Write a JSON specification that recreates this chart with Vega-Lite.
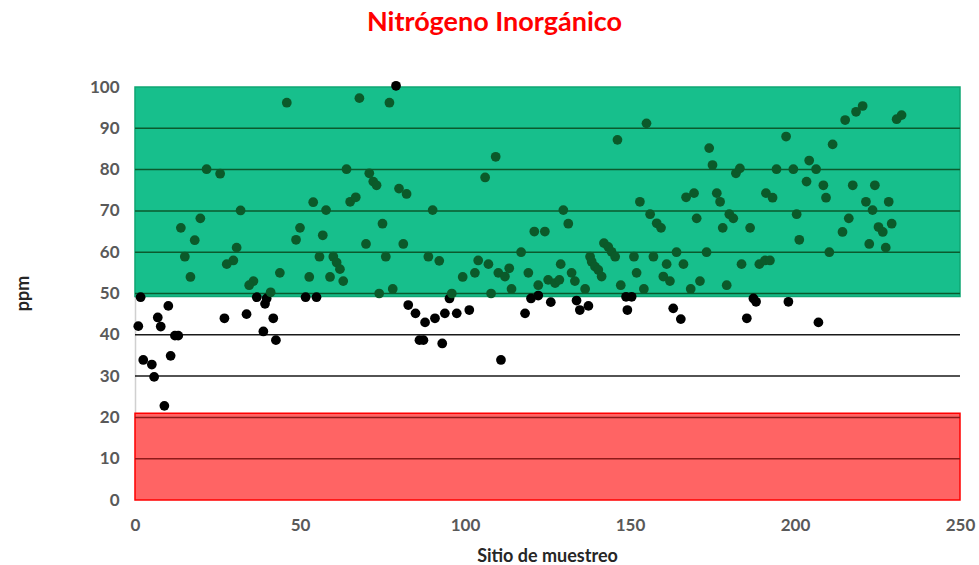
{
  "$schema": "https://vega.github.io/schema/vega-lite/v6.json",
  "width": 825,
  "height": 413,
  "autosize": {"type": "none"},
  "padding": {"left": 135, "top": 87, "right": 19, "bottom": 65},
  "background": "white",
  "title": {
    "text": "Nitrógeno Inorgánico",
    "color": "#FF0000",
    "font": "Lato",
    "fontSize": 27,
    "fontWeight": "bold",
    "anchor": "middle",
    "dx": -53,
    "offset": 41
  },
  "config": {
    "view": {"stroke": null},
    "axis": {"labelFont": "Lato", "titleFont": "Lato"}
  },
  "datasets": {
    "puntos": [
      {"sitio": 1.7, "ppm": 49.1}, {"sitio": 10.1, "ppm": 47}, {"sitio": 1, "ppm": 42.1}, {"sitio": 6.9, "ppm": 44.2}, {"sitio": 7.8, "ppm": 42},
      {"sitio": 12.1, "ppm": 39.8}, {"sitio": 13.1, "ppm": 39.8}, {"sitio": 2.5, "ppm": 33.9}, {"sitio": 5.1, "ppm": 32.8}, {"sitio": 10.8, "ppm": 34.9},
      {"sitio": 5.8, "ppm": 29.8}, {"sitio": 8.9, "ppm": 22.8}, {"sitio": 27.1, "ppm": 44}, {"sitio": 33.8, "ppm": 45}, {"sitio": 36.9, "ppm": 49.1},
      {"sitio": 39.9, "ppm": 48.8}, {"sitio": 39.4, "ppm": 47.5}, {"sitio": 41.9, "ppm": 44}, {"sitio": 38.9, "ppm": 40.8}, {"sitio": 42.7, "ppm": 38.7},
      {"sitio": 51.7, "ppm": 49.1}, {"sitio": 55, "ppm": 49.1}, {"sitio": 82.8, "ppm": 47.2}, {"sitio": 85, "ppm": 45.2}, {"sitio": 87.9, "ppm": 43},
      {"sitio": 90.9, "ppm": 44}, {"sitio": 93.9, "ppm": 45.2}, {"sitio": 97.5, "ppm": 45.2}, {"sitio": 101.3, "ppm": 46}, {"sitio": 86.2, "ppm": 38.7},
      {"sitio": 87.4, "ppm": 38.7}, {"sitio": 93.1, "ppm": 37.9}, {"sitio": 110.9, "ppm": 33.9}, {"sitio": 118.2, "ppm": 45.2}, {"sitio": 95.3, "ppm": 48.8},
      {"sitio": 120, "ppm": 48.8}, {"sitio": 122.2, "ppm": 49.5}, {"sitio": 126, "ppm": 47.9}, {"sitio": 133.8, "ppm": 48.3}, {"sitio": 134.8, "ppm": 46},
      {"sitio": 137.4, "ppm": 47}, {"sitio": 148.8, "ppm": 49.2}, {"sitio": 150.5, "ppm": 49.2}, {"sitio": 149.2, "ppm": 46}, {"sitio": 163.1, "ppm": 46.4},
      {"sitio": 165.4, "ppm": 43.8}, {"sitio": 187.4, "ppm": 48.8}, {"sitio": 188.2, "ppm": 48}, {"sitio": 198, "ppm": 48}, {"sitio": 185.4, "ppm": 44},
      {"sitio": 207.1, "ppm": 43}, {"sitio": 79.1, "ppm": 100.3},
      {"sitio": 46, "ppm": 96.2}, {"sitio": 21.7, "ppm": 80.1}, {"sitio": 25.8, "ppm": 79}, {"sitio": 32, "ppm": 70.1}, {"sitio": 54, "ppm": 72.1},
      {"sitio": 57.9, "ppm": 70.2}, {"sitio": 13.9, "ppm": 65.9}, {"sitio": 19.8, "ppm": 68.2}, {"sitio": 18.1, "ppm": 62.9}, {"sitio": 50, "ppm": 65.9},
      {"sitio": 48.8, "ppm": 63}, {"sitio": 56.9, "ppm": 64.1}, {"sitio": 30.8, "ppm": 61.1}, {"sitio": 15.1, "ppm": 58.9}, {"sitio": 29.8, "ppm": 58},
      {"sitio": 27.8, "ppm": 57.1}, {"sitio": 55.9, "ppm": 58.9}, {"sitio": 60.1, "ppm": 58.9}, {"sitio": 61.1, "ppm": 57.5}, {"sitio": 62.1, "ppm": 55.9},
      {"sitio": 16.8, "ppm": 54}, {"sitio": 43.9, "ppm": 55}, {"sitio": 52.8, "ppm": 54}, {"sitio": 59.1, "ppm": 54}, {"sitio": 35.9, "ppm": 53},
      {"sitio": 34.6, "ppm": 52}, {"sitio": 41.1, "ppm": 50.3}, {"sitio": 63.1, "ppm": 53},
      {"sitio": 68, "ppm": 97.3}, {"sitio": 77.1, "ppm": 96.2}, {"sitio": 109.3, "ppm": 83.1}, {"sitio": 106.1, "ppm": 78.1}, {"sitio": 64.1, "ppm": 80.1},
      {"sitio": 71, "ppm": 79.1}, {"sitio": 72.2, "ppm": 77.1}, {"sitio": 73.2, "ppm": 76.2}, {"sitio": 80, "ppm": 75.4}, {"sitio": 82.3, "ppm": 74.1},
      {"sitio": 65.2, "ppm": 72.2}, {"sitio": 66.9, "ppm": 73.3}, {"sitio": 90.2, "ppm": 70.2}, {"sitio": 75, "ppm": 66.9}, {"sitio": 70, "ppm": 62},
      {"sitio": 81.3, "ppm": 62}, {"sitio": 121, "ppm": 65}, {"sitio": 76, "ppm": 58.9}, {"sitio": 88.9, "ppm": 58.9}, {"sitio": 92.2, "ppm": 57.9},
      {"sitio": 104, "ppm": 58}, {"sitio": 107.1, "ppm": 57.1}, {"sitio": 117, "ppm": 60}, {"sitio": 103, "ppm": 55}, {"sitio": 99.3, "ppm": 54},
      {"sitio": 110.1, "ppm": 55}, {"sitio": 112.1, "ppm": 54.1}, {"sitio": 113.4, "ppm": 56.1}, {"sitio": 119.2, "ppm": 55}, {"sitio": 78.1, "ppm": 51.1},
      {"sitio": 74, "ppm": 50}, {"sitio": 96, "ppm": 50}, {"sitio": 107.9, "ppm": 50}, {"sitio": 114.1, "ppm": 51.1}, {"sitio": 122.2, "ppm": 52},
      {"sitio": 155, "ppm": 91.2}, {"sitio": 146.2, "ppm": 87.2}, {"sitio": 174, "ppm": 85.2}, {"sitio": 175, "ppm": 81.1}, {"sitio": 182.1, "ppm": 79.1},
      {"sitio": 153, "ppm": 72.2}, {"sitio": 167, "ppm": 73.3}, {"sitio": 169.4, "ppm": 74.3}, {"sitio": 176.3, "ppm": 74.3}, {"sitio": 177.3, "ppm": 72.2},
      {"sitio": 129.8, "ppm": 70.2}, {"sitio": 131.3, "ppm": 66.9}, {"sitio": 156.1, "ppm": 69.2}, {"sitio": 158.1, "ppm": 67}, {"sitio": 159.4, "ppm": 65.9},
      {"sitio": 170.2, "ppm": 68.2}, {"sitio": 180.1, "ppm": 69.2}, {"sitio": 181.3, "ppm": 68.2}, {"sitio": 178.1, "ppm": 65.9}, {"sitio": 124.2, "ppm": 65},
      {"sitio": 142.1, "ppm": 62.2}, {"sitio": 143.4, "ppm": 61.3}, {"sitio": 144.4, "ppm": 60.1}, {"sitio": 145.5, "ppm": 58.9}, {"sitio": 151.2, "ppm": 58.9},
      {"sitio": 157.1, "ppm": 58.9}, {"sitio": 164.1, "ppm": 60}, {"sitio": 173.2, "ppm": 60}, {"sitio": 161.1, "ppm": 57.1}, {"sitio": 166.2, "ppm": 57.1},
      {"sitio": 183.8, "ppm": 57.1}, {"sitio": 129, "ppm": 57.1}, {"sitio": 137.9, "ppm": 58.9}, {"sitio": 138.4, "ppm": 57.7}, {"sitio": 139.4, "ppm": 56.5},
      {"sitio": 140.4, "ppm": 55.7}, {"sitio": 141.4, "ppm": 54.1}, {"sitio": 132.3, "ppm": 55}, {"sitio": 133.3, "ppm": 53}, {"sitio": 152, "ppm": 55},
      {"sitio": 125.2, "ppm": 53.3}, {"sitio": 127.3, "ppm": 52.5}, {"sitio": 128.6, "ppm": 53.3}, {"sitio": 136.4, "ppm": 51.1}, {"sitio": 147.2, "ppm": 52},
      {"sitio": 154.2, "ppm": 51.1}, {"sitio": 160.1, "ppm": 54.1}, {"sitio": 162.1, "ppm": 53}, {"sitio": 171.2, "ppm": 53}, {"sitio": 168.4, "ppm": 51.1},
      {"sitio": 179.3, "ppm": 52},
      {"sitio": 220.5, "ppm": 95.4}, {"sitio": 218.5, "ppm": 94}, {"sitio": 215.2, "ppm": 92}, {"sitio": 232.3, "ppm": 93.2}, {"sitio": 230.8, "ppm": 92.2},
      {"sitio": 197.3, "ppm": 88}, {"sitio": 211.4, "ppm": 86.1}, {"sitio": 204.3, "ppm": 82.2}, {"sitio": 206.4, "ppm": 80.1}, {"sitio": 194.4, "ppm": 80.1},
      {"sitio": 199.5, "ppm": 80.1}, {"sitio": 183.3, "ppm": 80.3}, {"sitio": 203.5, "ppm": 77.1}, {"sitio": 208.6, "ppm": 76.2}, {"sitio": 209.4, "ppm": 73.2},
      {"sitio": 217.5, "ppm": 76.2}, {"sitio": 224.2, "ppm": 76.2}, {"sitio": 191.2, "ppm": 74.3}, {"sitio": 193.2, "ppm": 73.2}, {"sitio": 221.5, "ppm": 72.2},
      {"sitio": 223.5, "ppm": 70.2}, {"sitio": 228.4, "ppm": 72.2}, {"sitio": 200.5, "ppm": 69.2}, {"sitio": 186.4, "ppm": 65.9}, {"sitio": 216.3, "ppm": 68.2},
      {"sitio": 214.4, "ppm": 64.9}, {"sitio": 225.3, "ppm": 66.1}, {"sitio": 226.6, "ppm": 64.9}, {"sitio": 229.3, "ppm": 66.9}, {"sitio": 201.3, "ppm": 63},
      {"sitio": 222.5, "ppm": 62}, {"sitio": 227.5, "ppm": 61.1}, {"sitio": 210.4, "ppm": 60}, {"sitio": 189.2, "ppm": 57.1}, {"sitio": 190.9, "ppm": 58},
      {"sitio": 192.4, "ppm": 58}
    ],
    "zonas": [
      {"zona": "adecuado", "desde": 49.3, "hasta": 100},
      {"zona": "deficiente", "desde": 0, "hasta": 21}
    ],
    "lineas": [
      {"nivel": 10, "zona": "deficiente"}, {"nivel": 20, "zona": "deficiente"},
      {"nivel": 30, "zona": "medio"}, {"nivel": 40, "zona": "medio"},
      {"nivel": 50, "zona": "adecuado"}, {"nivel": 60, "zona": "adecuado"}, {"nivel": 70, "zona": "adecuado"},
      {"nivel": 80, "zona": "adecuado"}, {"nivel": 90, "zona": "adecuado"}
    ]
  },
  "encoding": {
    "y": {
      "type": "quantitative",
      "scale": {"domain": [0, 100], "nice": false},
      "axis": {
        "title": "ppm",
        "values": [0, 10, 20, 30, 40, 50, 60, 70, 80, 90, 100],
        "grid": false,
        "ticks": false,
        "domain": true,
        "domainColor": "#d0d0d0",
        "domainWidth": 1.5,
        "labelColor": "#595959",
        "labelFontSize": 17,
        "labelFontWeight": "bold",
        "labelPadding": 16,
        "labelFlush": false,
        "titleColor": "#262626",
        "titleFontSize": 18,
        "titleFontWeight": "bold",
        "titleX": -112,
        "titleY": 206,
        "titleAngle": -90,
        "titleAlign": "center",
        "titleBaseline": "middle"
      }
    }
  },
  "layer": [
    {
      "data": {"name": "zonas"},
      "transform": [{"filter": "datum.zona === 'adecuado'"}],
      "mark": {"type": "rect", "fill": "#17BF8C", "stroke": "#0FA673", "strokeWidth": 1.5},
      "encoding": {
        "x": {"datum": 0, "type": "quantitative", "scale": {"domain": [0, 250], "nice": false},
          "axis": {
            "title": "Sitio de muestreo",
            "values": [0, 50, 100, 150, 200, 250],
            "grid": false,
            "ticks": false,
            "domain": false,
            "labelFlush": false,
            "labelColor": "#595959",
            "labelFontSize": 17,
            "labelFontWeight": "bold",
            "labelPadding": 17,
            "titleColor": "#262626",
            "titleFontSize": 18,
            "titleFontWeight": "bold",
            "titleX": 412,
            "titleY": 56,
            "titleBaseline": "middle"
          }
        },
        "x2": {"datum": 250},
        "y": {"field": "desde", "type": "quantitative"},
        "y2": {"field": "hasta"}
      }
    },
    {
      "data": {"name": "zonas"},
      "transform": [{"filter": "datum.zona === 'deficiente'"}],
      "mark": {"type": "rect", "fill": "#FF6464", "stroke": "#FF0000", "strokeWidth": 1.5},
      "encoding": {
        "x": {"datum": 0, "type": "quantitative"},
        "x2": {"datum": 250},
        "y": {"field": "desde", "type": "quantitative"},
        "y2": {"field": "hasta"}
      }
    },
    {
      "data": {"name": "lineas"},
      "mark": {"type": "rule", "strokeWidth": 1.5},
      "encoding": {
        "x": {"datum": 0, "type": "quantitative"},
        "x2": {"datum": 250},
        "y": {"field": "nivel", "type": "quantitative"},
        "color": {
          "field": "zona",
          "type": "nominal",
          "scale": {"domain": ["deficiente", "medio", "adecuado"], "range": ["#8E1A1A", "#1a1a1a", "#0B5A2E"]},
          "legend": null
        }
      }
    },
    {
      "data": {"name": "puntos"},
      "mark": {"type": "circle", "size": 95, "opacity": 1},
      "encoding": {
        "x": {"field": "sitio", "type": "quantitative"},
        "y": {"field": "ppm", "type": "quantitative"},
        "color": {
          "condition": {"test": "datum.ppm >= 50 && datum.ppm <= 100", "value": "#0B5A2A"},
          "value": "#000000"
        }
      }
    }
  ]
}
